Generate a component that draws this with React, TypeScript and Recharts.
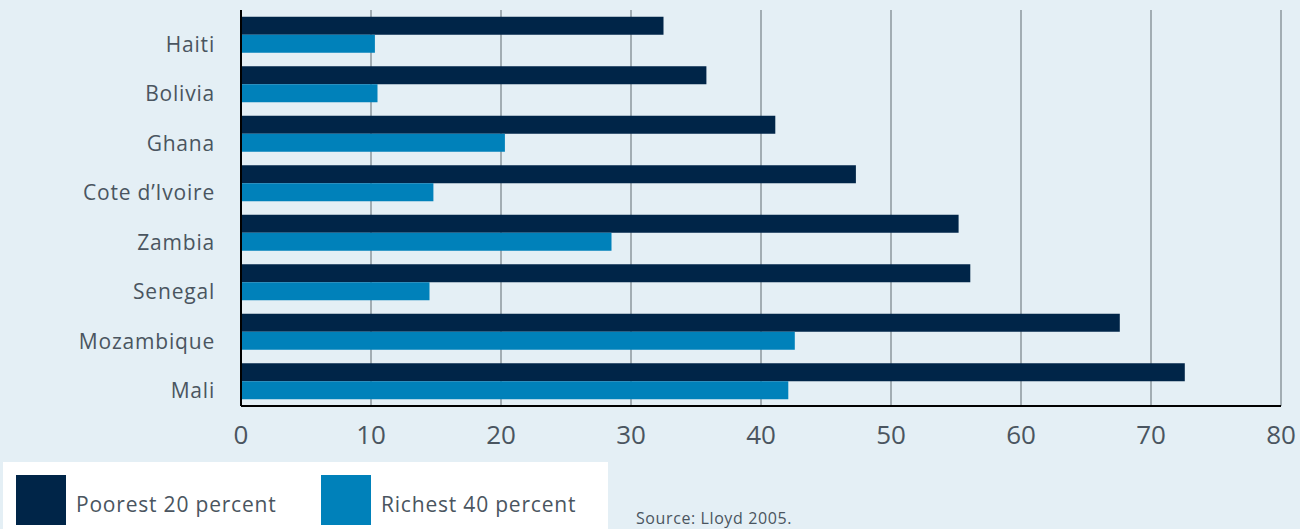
import React from "react";
import {
  BarChart,
  Bar,
  XAxis,
  YAxis,
  CartesianGrid,
} from "recharts";

const countries = [
  "Haiti",
  "Bolivia",
  "Ghana",
  "Cote d\u2019Ivoire",
  "Zambia",
  "Senegal",
  "Mozambique",
  "Mali",
];
const poorest20 = [32.5, 35.8, 41.1, 47.3, 55.2, 56.1, 67.6, 72.6];
const richest40 = [10.3, 10.5, 20.3, 14.8, 28.5, 14.5, 42.6, 42.1];
const xTicks = [0, 10, 20, 30, 40, 50, 60, 70, 80];
const seriesNames = ["Poorest 20 percent", "Richest 40 percent"];

const DARK = "#002548";
const LIGHT = "#0081ba";
const BG = "#e4eff5";
const FONT = "'Open Sans', sans-serif";
const TEXT = "#4a5560";

const data = countries.map((name, i) => ({
  name,
  poorest: poorest20[i],
  richest: richest40[i],
}));

const YTick = (props: any) => {
  const { x, y, payload } = props;
  return (
    <text
      x={x}
      y={y + 9}
      textAnchor="end"
      dominantBaseline="central"
      fill={TEXT}
      fontSize={21}
      fontFamily={FONT}
      letterSpacing={0.8}
    >
      {payload.value}
    </text>
  );
};

const LegendBox = () => (
  <div style={{ position: "absolute", left: 0, top: 462, width: 1300, height: 67, fontFamily: FONT }}>
    <div
      style={{
        position: "absolute",
        left: 3,
        top: 0,
        width: 605,
        height: 67,
        background: "#ffffff",
      }}
    >
      <div style={{ position: "absolute", left: 13, top: 13, width: 50, height: 50, background: DARK }} />
      <div style={{ position: "absolute", left: 73, top: 28, fontSize: 21, lineHeight: "28px", letterSpacing: 0.8, color: TEXT, whiteSpace: "nowrap" }}>
        {seriesNames[0]}
      </div>
      <div style={{ position: "absolute", left: 318, top: 13, width: 50, height: 50, background: LIGHT }} />
      <div style={{ position: "absolute", left: 378, top: 28, fontSize: 21, lineHeight: "28px", letterSpacing: 0.8, color: TEXT, whiteSpace: "nowrap" }}>
        {seriesNames[1]}
      </div>
    </div>
    <div style={{ position: "absolute", left: 636, top: 45, fontSize: 16, lineHeight: "22px", letterSpacing: 0.6, color: TEXT, whiteSpace: "nowrap" }}>
      Source: Lloyd 2005.
    </div>
  </div>
);

const App = () => {
  return (
    <div
      style={{
        position: "fixed",
        left: 0,
        top: 0,
        width: 1300,
        height: 529,
        background: BG,
      }}
    >
      <BarChart
        width={1300}
        height={529}
        data={data}
        layout="vertical"
        margin={{ top: 10, right: 19, bottom: 93, left: 0 }}
        barCategoryGap="13.6%"
        barGap={0}
      >
        <CartesianGrid horizontal={false} stroke="#8c979d" strokeWidth={1.5} />
        <XAxis
          type="number"
          domain={[0, 80]}
          ticks={xTicks}
          tickLine={false}
          tickMargin={14}
          axisLine={{ stroke: "#000000", strokeWidth: 2 }}
          tick={{ fontSize: 26, fill: TEXT, fontFamily: FONT }}
        />
        <YAxis
          type="category"
          dataKey="name"
          width={241}
          tickLine={false}
          tickMargin={20}
          axisLine={{ stroke: "#000000", strokeWidth: 2 }}
          tick={<YTick />}
        />
        <Bar dataKey="poorest" name={seriesNames[0]} fill={DARK} isAnimationActive={false} />
        <Bar dataKey="richest" name={seriesNames[1]} fill={LIGHT} isAnimationActive={false} />
      </BarChart>
      <LegendBox />
    </div>
  );
};

export default App;
